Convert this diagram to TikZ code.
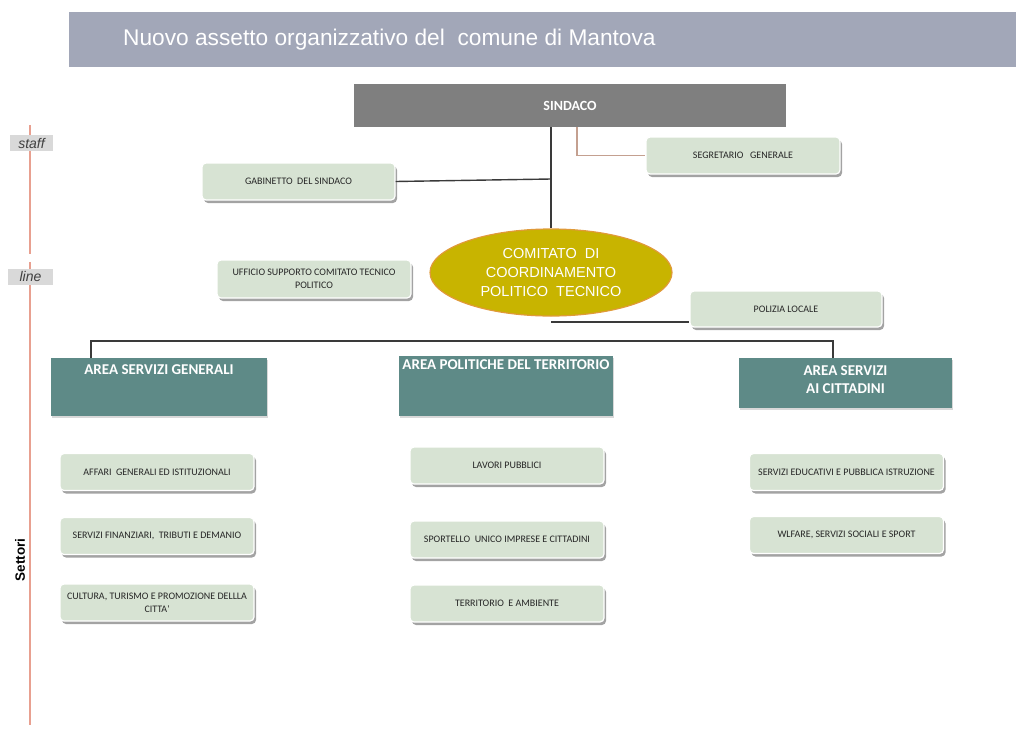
\documentclass[tikz,border=0pt]{standalone}
\usepackage{fontspec}
\setmainfont{Liberation Sans}
\newfontfamily\carl{Carlito}
\usetikzlibrary{shadows,shapes.geometric}

\definecolor{titlebar}{HTML}{A2A7B8}
\definecolor{headgray}{HTML}{7F7F7F}
\definecolor{unitfill}{HTML}{D7E3D3}
\definecolor{areateal}{HTML}{5E8A87}
\definecolor{comgold}{HTML}{C8B400}
\definecolor{comedge}{HTML}{E09A3A}
\definecolor{axisred}{HTML}{E8A090}
\definecolor{tagfill}{HTML}{D9D9D9}
\definecolor{segline}{HTML}{C4A090}
\definecolor{linkdark}{HTML}{3A3A3A}

\begin{document}
\begin{tikzpicture}[x=1pt,y=-1pt,
  unitbox/.style={draw=white, line width=1.2pt, fill=unitfill, rounded corners=4pt,
    drop shadow={shadow xshift=2pt, shadow yshift=-3pt, fill=black!60, opacity=0.6},
    minimum width=194pt, minimum height=37pt, inner sep=0pt, align=center,
    font=\carl\fontsize{10}{13}\selectfont, text=black!85},
  areabox/.style={fill=areateal, draw=none, inner sep=0pt,
    drop shadow={shadow xshift=1pt, shadow yshift=-2pt, fill=black!30, opacity=0.5}},
  areatext/.style={text=white, align=center, inner sep=0pt,
    font=\carl\bfseries\fontsize{15}{18}\selectfont},
  tagbox/.style={fill=tagfill, draw=none, inner sep=0pt, minimum height=16pt,
    font=\itshape\fontsize{14}{16}\selectfont, text=black!75},
  link/.style={draw=linkdark, line width=1.4pt},
]
\useasboundingbox (0,0) rectangle (1016,744);

% title bar
\node[fill=titlebar, minimum width=947pt, minimum height=55pt, inner sep=0pt, anchor=north west] (titlebar) at (69,12) {};
\node[anchor=west, text=white, inner sep=0pt, font=\fontsize{22.7}{26}\selectfont] (title) at (123,40) {Nuovo assetto organizzativo del\ \ comune di Mantova};

% staff / line axis
\coordinate (ax1) at (30,125);
\coordinate (ax2) at (30,254);
\coordinate (ax3) at (30,262);
\coordinate (ax4) at (30,725);
\draw[axisred, line width=1.6pt] (ax1) -- (ax2) (ax3) -- (ax4);
\node[tagbox, minimum width=43pt] (staff) at (31.5,143) {staff};
\node[tagbox, minimum width=45pt] (line) at (30.5,276.5) {line};
\node[rotate=90, font=\bfseries\fontsize{13.5}{15}\selectfont, inner sep=0pt] (settori) at (20,560) {Settori};

% top of the organisation
\node[fill=headgray, minimum width=432pt, minimum height=43pt, inner sep=0pt, text=white,
  font=\carl\bfseries\fontsize{14}{16}\selectfont] (sindaco) at (570,105.5) {SINDACO};

\node[ellipse, fill=comgold, draw=comedge, line width=1.2pt, minimum width=242pt, minimum height=87pt,
  inner sep=0pt, text=white, align=center, font=\fontsize{14.5}{19}\selectfont] (comitato) at (551,272.5)
  {COMITATO\ \ DI\\COORDINAMENTO\\POLITICO\ \ TECNICO};

\node[unitbox, minimum width=193pt] (gabinetto) at (298.5,181.5) {GABINETTO\ \ DEL SINDACO};
\node[unitbox] (segretario) at (743,155.5) {SEGRETARIO\ \ \ GENERALE};
\node[unitbox, minimum height=38pt] (ufficio) at (314,279) {UFFICIO SUPPORTO COMITATO TECNICO\\POLITICO};
\node[unitbox, minimum width=192pt, minimum height=36pt] (polizia) at (786,309) {POLIZIA LOCALE};

% connectors of the top part
\coordinate (sx) at (551,127);
\draw[link] (sx) -- (comitato.north);
\draw[link] (gabinetto.east) -- (551,179);
\coordinate (sg) at (577,127);
\draw[segline, line width=1.2pt] (sg) |- (segretario.west);
\coordinate (pl) at (551,322);
\draw[link] (pl) -- (pl -| polizia.west);

% areas
\node[areabox, minimum width=216pt, minimum height=58pt] (asg) at (159,387) {};
\node[areabox, minimum width=214pt, minimum height=60pt] (apt) at (506,386) {};
\node[areabox, minimum width=213pt, minimum height=50pt] (asc) at (845.5,383) {};
\node[areatext] (asgt) at (159,370) {AREA SERVIZI GENERALI};
\node[areatext] (aptt) at (506,364.5) {AREA POLITICHE DEL TERRITORIO};
\node[areatext] (asct) at (845.5,380) {AREA SERVIZI\\AI CITTADINI};

% bus to the areas
\coordinate (b1) at (91,358);
\coordinate (b2) at (833,358);
\draw[link] (b1) |- (833,341) -- (b2);

% sectors
\node[unitbox] (affari) at (157,472) {AFFARI\ \ GENERALI ED\ ISTITUZIONALI};
\node[unitbox] (finanze) at (157,536) {SERVIZI\ FINANZIARI,\ \ TRIBUTI E DEMANIO};
\node[unitbox] (cultura) at (157,602.5) {CULTURA, TURISMO\ E PROMOZIONE\ DELLLA\\CITTA'};

\node[unitbox] (lavori) at (507,465.5) {LAVORI\ PUBBLICI};
\node[unitbox] (sportello) at (507,539.5) {SPORTELLO\ \ UNICO IMPRESE\ E CITTADINI};
\node[unitbox] (territorio) at (507,603.5) {TERRITORIO\ \ E AMBIENTE};

\node[unitbox] (educativi) at (846.5,472) {SERVIZI\ EDUCATIVI\ E PUBBLICA ISTRUZIONE};
\node[unitbox] (welfare) at (846.5,535) {WLFARE,\ SERVIZI\ SOCIALI\ E SPORT};
\end{tikzpicture}
\end{document}
